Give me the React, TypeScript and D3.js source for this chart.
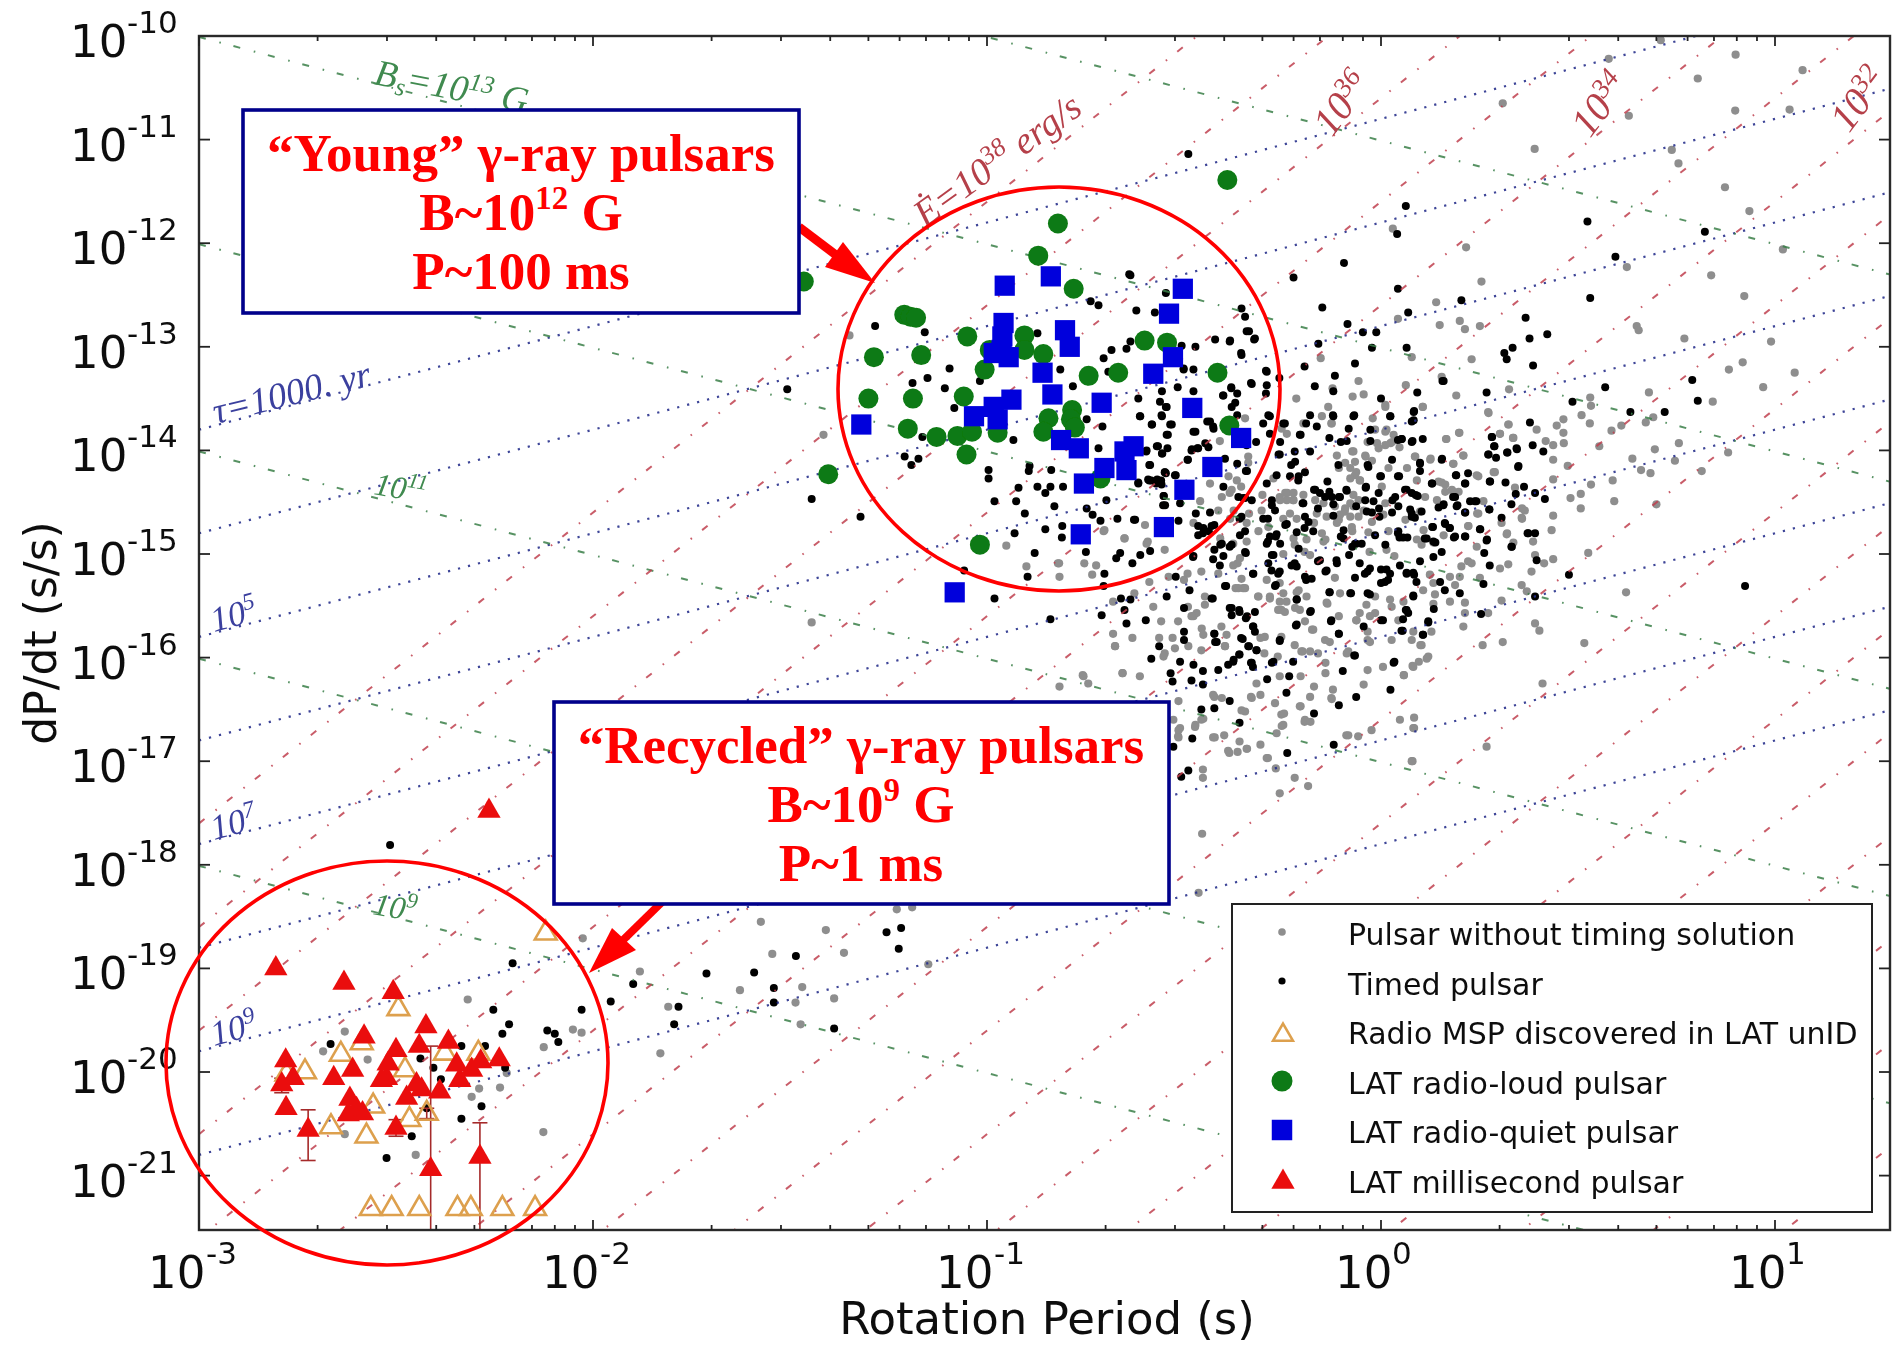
import React from 'react';
import * as d3 from 'd3';

// all points are [log10 period, log10 period derivative]
const greenPulsars = [
  [-0.39,-11.39],[-0.82,-11.81],[-0.87,-12.12],[-0.78,-12.44],[-1.465,-12.37],[-1.21,-12.69],[-1.194,-12.71],[-1.18,-12.72],
  [-1.05,-12.9],[-0.905,-12.89],[-0.905,-13.03],[-0.993,-13.03],[-0.857,-13.07],[-1.287,-13.1],[-1.167,-13.08],[-1.006,-13.22],
  [-0.742,-13.28],[-0.667,-13.25],[-0.6,-12.94],[-0.543,-12.96],[-0.415,-13.25],[-1.301,-13.5],[-1.188,-13.5],[-1.059,-13.48],
  [-1.201,-13.79],[-1.128,-13.87],[-1.075,-13.86],[-1.038,-13.82],[-0.973,-13.83],[-1.052,-14.04],[-1.403,-14.23],[-1.018,-14.91],
  [-0.844,-13.69],[-0.857,-13.82],[-0.784,-13.61],[-0.787,-13.7],[-0.777,-13.78],[-0.385,-13.76],[-0.712,-14.27],
];
const bluePulsars = [
  [-1.319,-13.75],[-1.082,-15.37],[-0.955,-12.41],[-0.838,-12.32],[-0.503,-12.44],[-0.538,-12.68],[-0.958,-12.77],[-0.961,-12.9],
  [-0.963,-13.03],[-0.983,-13.06],[-0.945,-13.1],[-0.802,-12.84],[-0.79,-13.0],[-0.528,-13.1],[-0.859,-13.25],[-0.578,-13.26],
  [-0.834,-13.46],[-0.709,-13.54],[-0.938,-13.51],[-0.983,-13.58],[-1.033,-13.67],[-0.973,-13.7],[-0.479,-13.59],[-0.812,-13.9],
  [-0.767,-13.98],[-0.355,-13.88],[-0.628,-13.96],[-0.651,-14.01],[-0.646,-14.19],[-0.702,-14.17],[-0.754,-14.32],[-0.428,-14.16],
  [-0.499,-14.38],[-0.551,-14.74],[-0.762,-14.81],
];
const redPulsars = [
  [-2.264,-17.48],[-2.805,-19.0],[-2.632,-19.14],[-2.507,-19.23],[-2.424,-19.56],[-2.581,-19.66],[-2.78,-19.89],[-2.367,-19.71],
  [-2.441,-19.75],[-2.5,-19.79],[-2.52,-19.92],[-2.238,-19.88],[-2.285,-19.9],[-2.346,-19.93],[-2.308,-19.98],[-2.61,-19.98],
  [-2.658,-20.06],[-2.761,-20.06],[-2.79,-20.12],[-2.524,-20.06],[-2.537,-20.08],[-2.338,-20.08],[-2.448,-20.12],[-2.435,-20.17],
  [-2.389,-20.19],[-2.473,-20.25],[-2.617,-20.26],[-2.621,-20.41],[-2.6,-20.36],[-2.585,-20.4],[-2.779,-20.35],[-2.5,-20.54],
  [-2.723,-20.56],[-2.287,-20.82],[-2.412,-20.94],
];
const orangeMsps = [
  [-2.494,-19.39],[-2.64,-19.83],[-2.731,-20.0],[-2.12,-18.66],[-2.778,-20.02],[-2.477,-19.98],[-2.558,-20.33],[-2.466,-20.46],
  [-2.665,-20.53],[-2.575,-20.62],[-2.376,-19.82],[-2.291,-19.82],[-2.587,-19.72],[-2.422,-20.4],
  [-2.564,-21.32],[-2.511,-21.32],[-2.441,-21.32],[-2.344,-21.32],[-2.31,-21.32],[-2.23,-21.32],[-2.147,-21.32],
];
// [log10 P, lower, upper]
const redErrorBars = [
  [-2.723,-20.854,-20.365],[-2.412,-21.7,-19.75],[-2.287,-21.7,-20.49],[-2.79,-20.2,-20.06],[-2.5,-20.62,-20.46],[-2.422,-20.45,-20.35],
];
const timedPulsars = [
  [-2.666,-19.73],[-2.204,-18.95],[-2.253,-19.4],[-2.213,-19.54],[-2.23,-19.63],[-2.334,-19.75],[-2.274,-19.75],[-2.438,-19.87],
  [-2.405,-19.96],[-2.386,-20.07],[-2.223,-19.96],[-2.283,-20.33],[-2.334,-20.45],[-2.46,-20.62],[-2.524,-20.83],[-2.422,-20.35],
  [-2.116,-19.6],[-2.097,-19.63],[-2.088,-19.71],[-2.029,-19.4],[-1.955,-19.32],[-1.898,-19.15],[-1.712,-19.05],[-1.591,-19.04],
  [-1.485,-18.88],[-1.255,-18.65],[-1.218,-18.61],[-1.224,-18.81],[-1.783,-19.37],[-1.794,-19.54],[-1.541,-19.19],[-1.541,-19.33],
  [-1.388,-19.58],[-2.515,-17.81],
  [-0.489,-11.14],[0.063,-11.64],[0.041,-11.91],[-0.094,-12.19],[-0.222,-12.33],[0.524,-11.79],[0.822,-11.89],[0.595,-12.13],
  [0.531,-12.53],[0.204,-12.55],[-0.149,-12.62],[0.069,-12.67],[0.367,-12.72],[0.422,-12.88],[0.377,-12.92],[-0.085,-12.78],
  [-0.046,-12.86],[-0.012,-12.86],[-0.159,-12.97],[-0.023,-13.01],[0.065,-13.01],[0.334,-13.01],[0.313,-13.06],[0.319,-13.12],
  [0.386,-13.18],[-0.066,-13.16],[-0.194,-13.19],[0.159,-13.33],[0.79,-13.32],[0.569,-13.39],[0.268,-13.44],[0.804,-13.52],
  [0.092,-13.44],[-0.117,-13.28],[-0.168,-13.38],[-0.121,-13.43],[0.0,-13.5],[0.486,-13.53],[0.72,-13.63],[0.633,-13.63],[0.043,-12.44],
  [-0.639,-12.3],[-0.546,-12.48],[-0.621,-12.65],[-0.574,-12.67],[-0.354,-12.63],[-0.345,-12.71],[-0.341,-12.85],[-0.322,-12.93],
  [-0.421,-12.93],[-0.384,-12.95],[-0.354,-13.08],[-0.501,-13.21],[-0.292,-13.23],[-0.328,-13.36],[-0.258,-13.3],[-0.38,-13.4],
  [-0.401,-13.47],[-0.292,-13.45],
  [0.156,-13.33],[0.084,-13.62],[0.078,-13.72],[0.378,-13.73],[0.282,-13.87],[0.287,-13.96],[0.052,-13.89],[0.08,-13.91],[0.106,-13.89],
  [0.385,-13.95],[0.344,-13.98],[0.32,-14.02],[0.272,-14.04],[0.292,-14.07],[0.412,-14.01],[0.155,-14.08],[0.099,-14.12],[0.099,-14.2],
  [0.348,-14.16],[0.19,-14.24],[0.221,-14.22],[0.213,-14.32],[0.276,-14.3],[0.316,-14.31],[0.13,-14.32],[0.363,-14.35],[0.065,-14.38],
  [0.088,-14.43],[0.183,-14.45],[0.342,-14.42],[0.391,-14.41],[0.416,-14.47],[0.238,-14.49],[0.331,-14.52],[0.158,-14.53],[0.194,-14.53],
  [0.275,-14.57],[0.213,-14.6],[0.078,-14.61],[0.103,-14.59],[0.306,-14.65],[0.086,-14.65],[0.162,-14.7],[0.175,-14.75],[0.13,-14.74],
  [0.251,-14.76],[0.374,-14.8],[0.391,-14.8],[0.213,-14.83],[0.185,-14.84],[0.056,-14.84],[0.111,-14.85],[0.133,-14.88],[0.268,-14.87],
  [0.331,-14.93],[0.154,-14.98],[0.133,-15.03],[0.262,-14.99],[0.099,-15.07],[0.395,-15.06],[0.276,-15.11],[0.477,-15.2],[0.065,-15.18],
  [0.084,-15.2],[0.15,-15.27],[0.26,-15.29],[0.162,-15.35],[0.2,-15.38],[0.391,-15.41],[0.082,-15.4],[0.065,-15.54],[0.134,-15.53],
  [0.254,-15.58],[0.056,-15.63],[0.12,-15.66],[0.055,-15.74],[0.106,-15.78],[0.924,-15.31],
  [-0.282,-13.67],[-0.248,-13.74],[-0.204,-13.85],[-0.18,-13.66],[-0.122,-13.66],[-0.068,-13.66],[0.024,-13.67],[-0.131,-13.88],
  [-0.102,-13.92],[0.043,-13.9],[-0.257,-14.04],[-0.219,-14.01],[-0.18,-14.01],[-0.228,-14.14],[-0.209,-14.25],[-0.034,-14.14],
  [0.0,-14.25],[0.043,-14.25],[-0.17,-14.38],[-0.131,-14.4],[-0.136,-14.3],[-0.107,-14.45],[-0.088,-14.38],[-0.039,-14.36],
  [-0.277,-14.48],[-0.199,-14.51],[-0.35,-14.46],[-0.16,-14.56],[-0.063,-14.54],[-0.005,-14.56],[0.029,-14.48],[-0.359,-14.66],
  [-0.287,-14.66],[-0.243,-14.72],[-0.194,-14.75],[-0.267,-14.83],[-0.287,-14.88],[-0.102,-14.83],[-0.063,-14.9],[-0.015,-14.82],
  [0.043,-14.8],[-0.345,-14.98],[-0.423,-14.96],[-0.384,-14.93],[-0.277,-15.01],[-0.209,-14.95],[-0.219,-15.09],[-0.16,-15.07],
  [-0.112,-15.09],[-0.257,-15.17],[-0.325,-15.19],[-0.073,-14.93],[-0.141,-15.17],[-0.034,-15.17],[0.014,-15.15],[0.01,-15.27],
  [-0.19,-15.25],[-0.267,-15.3],[-0.393,-15.31],[-0.486,-15.35],[-0.427,-15.43],[-0.544,-15.41],[-0.214,-15.44],[-0.18,-15.56],
  [-0.131,-15.37],[-0.078,-15.38],[-0.034,-15.38],[0.005,-15.64],[-0.126,-15.64],[-0.214,-15.68],[-0.044,-15.7],[-0.257,-15.83],
  [-0.107,-15.77],[-0.384,-15.52],[-0.359,-15.56],[-0.32,-15.56],[-0.34,-15.6],[-0.325,-15.7],[-0.5,-15.52],[-0.651,-15.54],
  [-0.636,-15.44],[-0.66,-15.43],[-0.709,-15.59],[-0.597,-15.64],[-0.646,-15.67],[-0.5,-15.75],[-0.423,-15.77],[-0.421,-15.85],
  [-0.5,-15.83],[-0.563,-15.89],[-0.355,-15.81],[-0.335,-15.89],[-0.316,-15.93],[-0.359,-15.97],[-0.374,-16.02],[-0.388,-16.07],
  [-0.583,-16.01],[-0.51,-16.04],[-0.476,-16.07],[-0.452,-16.13],[-0.413,-16.12],[-0.33,-16.05],[-0.325,-16.09],[-0.277,-16.05],
  [-0.223,-16.04],[-0.068,-15.98],[-0.097,-16.13],[-0.233,-16.18],[-0.289,-16.21],[0.032,-16.05],[-0.534,-16.15],[-0.529,-16.23],
  [-0.481,-16.22],[-0.452,-16.26],[-0.24,-16.34],[0.024,-16.31],[-0.063,-16.38],[-0.107,-16.46],[-0.456,-16.5],[-0.423,-16.49],
  [-0.384,-16.42],[-0.17,-16.54],[-0.359,-16.63],[-0.479,-16.78],[-0.12,-16.84],[-0.238,-16.92],[-0.527,-16.86],[-0.489,-17.09],[-0.507,-17.15],
  [-0.452,-14.8],[-0.423,-14.72],[-0.408,-14.91],[-0.437,-14.78],[-0.49,-14.09],[-0.466,-13.98],[-0.549,-14.21],[-0.558,-14.29],[-0.583,-14.29],
  [-1.284,-12.8],[-1.158,-12.86],[-1.507,-13.41],[-1.095,-13.21],[-1.151,-13.3],[-1.189,-13.35],[-1.107,-13.4],[-1.083,-13.59],[-1.018,-13.33],
  [-0.636,-12.31],[-0.737,-12.56],[-0.717,-12.6],[-0.872,-12.87],[-0.636,-12.95],[-0.684,-13.03],[-0.646,-13.02],[-0.704,-13.11],
  [-0.814,-13.22],[-0.692,-13.24],[-0.506,-12.99],[-0.383,-12.94],[-0.471,-13.0],[-0.355,-13.06],[-0.32,-12.92],[-0.335,-12.85],
  [-0.29,-13.24],[-0.501,-13.22],[-0.476,-13.22],[-0.782,-13.38],[-0.616,-13.5],[-0.556,-13.43],[-0.516,-13.39],[-0.476,-13.43],
  [-0.561,-13.53],[-0.546,-13.58],[-0.556,-13.67],[-0.4,-13.47],[-0.38,-13.39],[-0.365,-13.45],[-0.33,-13.35],[-0.29,-13.37],
  [-0.37,-13.54],[-0.611,-13.67],[-0.747,-13.7],[-0.581,-13.75],[-0.531,-13.75],[-0.441,-13.72],[-0.426,-13.77],[-0.471,-13.82],
  [-0.707,-13.77],[-0.541,-13.85],[-0.566,-13.96],[-0.556,-14.03],[-0.596,-14.01],[-0.481,-14.0],[-0.446,-13.93],[-0.491,-14.09],
  [-0.717,-13.98],[-0.933,-13.9],[-0.586,-14.14],[-0.546,-14.22],[-0.521,-14.24],[-0.591,-14.28],[-0.571,-14.32],[-0.616,-14.32],
  [-0.34,-14.2],[-1.164,-13.87],[-1.209,-14.06],[-1.174,-14.08],[-1.192,-14.14],[-0.996,-14.19],[-0.996,-14.27],[-0.892,-14.15],
  [-0.894,-14.2],[-0.837,-14.19],[-0.92,-14.36],[-0.872,-14.35],[-0.839,-14.35],[-0.807,-14.35],[-1.445,-14.47],[-1.321,-14.64],
  [-0.981,-14.49],[-0.926,-14.49],[-0.852,-14.41],[-0.829,-14.54],[-0.904,-14.61],[-0.747,-14.56],[-0.732,-14.62],[-0.712,-14.68],
  [-0.697,-14.48],[-0.669,-14.66],[-0.624,-14.67],[-0.551,-14.44],[-0.553,-14.53],[-0.93,-14.8],[-0.852,-14.76],[-0.809,-14.73],
  [-0.81,-14.84],[-0.879,-14.99],[-0.749,-14.98],[-0.672,-15.04],[-0.662,-14.99],[-0.631,-15.09],[-0.897,-15.22],[-0.702,-15.19],
  [-0.704,-15.31],[-0.611,-15.01],[-0.586,-14.97],[-0.981,-15.43],[-0.839,-15.63],[-1.058,-15.16],[-0.521,-15.22],[-0.476,-15.02],
  // dense core, upper left part
  [-0.612,-13.67],[-0.582,-13.75],[-0.535,-13.75],[-0.544,-13.85],[-0.476,-13.82],[-0.557,-13.66],[-0.544,-13.58],[-0.569,-13.96],
  [-0.542,-13.98],[-0.555,-14.03],[-0.595,-14.0],[-0.588,-14.14],[-0.548,-14.21],[-0.616,-14.31],[-0.588,-14.29],[-0.568,-14.28],
  [-0.557,-14.33],[-0.523,-14.24],[-0.552,-14.44],[-0.548,-14.53],[-0.51,-14.51],[-0.627,-14.67],[-0.514,-14.68],[-0.48,-13.99],
  [-0.464,-13.98],[-0.438,-13.97],[-0.434,-13.72],[-0.425,-13.79],[-0.365,-13.66],[-0.379,-13.58],[-0.317,-13.92],[-0.341,-13.95],
  [-0.396,-14.08],[-0.365,-14.13],[-0.343,-14.2],[-0.4,-14.35],[-0.362,-14.45],[-0.345,-14.46],[-0.328,-14.48],[-0.354,-14.64],
  [-0.434,-14.6],[-0.47,-14.61],[-0.464,-14.73],[-0.43,-14.73],[-0.451,-14.75],[-0.464,-14.82],[-0.404,-14.9],[-0.345,-14.78],
  [-0.358,-14.82],[-0.379,-14.91],[-0.286,-13.66],[-0.299,-13.74],[-0.282,-13.84],[-0.244,-13.74],[-0.206,-13.85],[-0.19,-13.74],
  [-0.163,-13.77],[-0.256,-13.92],[-0.26,-14.04],[-0.218,-14.11],[-0.231,-14.25],[-0.21,-14.29],[-0.193,-14.21],[-0.265,-14.24],
  [-0.29,-14.32],[-0.167,-14.38],[-0.155,-14.41],[-0.142,-14.45],[-0.197,-14.51],[-0.277,-14.53],[-0.269,-14.58],[-0.299,-14.66],
  [-0.193,-14.64],[-0.184,-14.69],[-0.239,-14.71],[-0.282,-14.83],[-0.265,-14.81],[-0.256,-14.9],[-0.214,-14.79],[-0.172,-14.78],[-0.29,-14.9],
  // dense core, upper right part
  [-0.121,-13.67],[-0.07,-13.67],[0.023,-13.67],[0.083,-13.63],[0.083,-13.71],[-0.082,-13.79],[-0.027,-13.8],[-0.027,-13.91],
  [-0.087,-13.91],[0.053,-13.89],[0.078,-13.92],[-0.108,-14.14],[-0.032,-14.16],[0.028,-14.09],[0.154,-14.09],[0.099,-14.13],
  [-0.002,-14.25],[0.046,-14.25],[0.191,-14.24],[0.129,-14.32],[0.214,-14.32],[0.277,-14.3],[-0.087,-14.39],[-0.038,-14.35],
  [-0.006,-14.41],[0.061,-14.38],[0.078,-14.41],[0.093,-14.44],[0.036,-14.45],[-0.125,-14.45],[-0.104,-14.45],[-0.04,-14.48],
  [-0.019,-14.49],[-0.121,-14.52],[0.188,-14.45],[0.159,-14.52],[0.146,-14.55],[0.192,-14.54],[0.226,-14.49],[0.242,-14.49],[0.275,-14.57],
  [0.214,-14.6],[0.044,-14.54],[-0.036,-14.59],[-0.023,-14.6],[0.028,-14.6],[0.074,-14.57],[0.078,-14.64],[-0.121,-14.63],[-0.004,-14.64],
  [0.132,-14.74],[0.163,-14.71],[0.174,-14.75],[-0.095,-14.77],[0.044,-14.78],[0.047,-14.84],[0.067,-14.84],[0.188,-14.83],[0.214,-14.83],
  [0.116,-14.85],[0.138,-14.89],[0.252,-14.76],[0.269,-14.86],[0.372,-14.8],[0.332,-14.93],[0.011,-14.91],[-0.049,-14.9],[-0.095,-14.85],
  [-0.066,-14.9],[0.281,-13.87],[0.288,-13.96],[0.273,-14.04],[0.321,-14.02],[0.345,-13.99],[0.349,-14.15],
  // dense core, lower part
  [-0.477,-15.03],[-0.426,-15.05],[-0.4,-15.02],[-0.409,-15.11],[-0.343,-14.99],[-0.273,-15.01],[-0.286,-15.09],[-0.324,-15.19],
  [-0.278,-15.16],[-0.261,-15.19],[-0.227,-15.11],[-0.214,-15.12],[-0.193,-15.22],[-0.176,-15.24],[-0.138,-15.16],[-0.155,-15.06],
  [-0.113,-15.06],[-0.081,-15.01],[-0.054,-15.09],[-0.028,-15.14],[-0.041,-15.19],[-0.066,-15.23],[0.0,-15.15],[0.023,-15.19],
  [0.048,-15.11],[0.0,-15.28],[0.018,-15.25],[0.065,-15.19],[0.082,-15.18],[0.09,-15.27],[0.082,-15.41],[-0.028,-15.39],[-0.076,-15.38],
  [-0.13,-15.37],[-0.214,-15.44],[-0.269,-15.31],[-0.396,-15.31],[-0.43,-15.43],[-0.379,-15.52],[-0.36,-15.54],[-0.379,-15.59],[-0.343,-15.62],
  [-0.178,-15.55],[-0.324,-15.7],[-0.32,-15.75],[-0.423,-15.77],[-0.417,-15.85],[-0.351,-15.82],[-0.337,-15.89],[-0.316,-15.93],[-0.36,-15.97],
  [-0.375,-16.04],[-0.257,-15.84],[-0.216,-15.69],[-0.127,-15.65],[0.0,-15.64],[-0.107,-15.77],[0.063,-15.54],[0.069,-15.57],[-0.066,-15.98],
  [0.034,-16.04],[0.052,-15.74],[0.107,-15.78],[0.12,-15.65],[-0.328,-16.05],[-0.273,-16.04],
];
const untimedPulsars = [
  [-1.574,-18.55],[-1.409,-18.63],[-1.545,-18.86],[-1.363,-18.85],[-1.881,-19.03],[-1.627,-19.21],[-1.469,-19.18],[-1.388,-19.29],
  [-1.486,-19.33],[-1.809,-19.37],[-1.473,-19.54],[-1.829,-19.82],[-2.026,-18.71],[-2.051,-19.59],[-2.029,-19.62],[-1.229,-18.43],
  [-1.19,-18.41],[-1.149,-18.96],[-0.463,-18.27],[-2.318,-19.3],[-2.63,-19.61],[-2.685,-19.8],[-2.572,-19.88],[-2.125,-19.76],
  [-2.289,-20.16],[-2.308,-20.24],[-2.236,-20.15],[-2.219,-20.01],[-2.63,-20.6],[-2.45,-20.8],[-2.126,-20.58],
  [0.71,-10.04],[0.9,-10.18],[0.578,-10.22],[0.804,-10.41],[0.309,-10.65],[0.629,-10.77],[0.899,-10.72],[0.39,-11.09],[0.738,-11.1],
  [0.755,-11.23],[0.873,-11.46],[0.935,-11.69],[0.03,-11.86],[0.216,-12.04],[1.02,-12.06],[0.624,-12.23],[0.838,-12.31],[0.255,-12.37],
  [0.14,-12.57],[0.922,-12.51],[0.2,-12.75],[0.149,-12.79],[0.213,-12.83],[0.649,-12.8],[0.77,-12.92],[0.99,-12.95],[0.043,-12.73],
  [0.918,-13.15],[0.883,-13.22],[1.05,-13.25],[0.23,-13.12],[0.97,-13.39],[0.68,-13.44],[0.842,-13.53],[0.191,-13.47],[-0.153,-13.11],
  [-0.057,-13.33],[0.063,-13.37],[-0.215,-13.5],[-0.072,-13.48],[-0.044,-13.46],[0.531,-13.49],[0.325,-13.41],[-0.123,-13.4],[0.011,-13.56],
  [1.07,-10.33],[1.037,-10.71],[0.251,-12.8],[0.654,-12.84],[0.533,-13.57],[0.078,-13.1],[0.154,-13.29],[0.272,-13.63],[0.106,-13.58],
  [0.323,-13.75],[0.509,-13.66],[0.53,-13.74],[0.463,-13.7],[0.446,-13.76],[0.463,-13.83],[0.199,-13.83],[0.395,-13.8],[0.336,-13.88],
  [0.302,-13.84],[0.418,-13.91],[0.464,-13.93],[0.437,-13.95],[0.166,-13.89],[0.691,-13.68],[0.672,-13.73],[0.61,-13.76],[0.585,-13.81],
  [0.554,-13.96],[0.756,-13.93],[0.695,-13.99],[0.881,-14.02],[0.638,-14.08],[0.746,-14.1],[0.437,-14.09],[0.474,-14.15],[0.66,-14.19],
  [0.684,-14.22],[0.814,-14.2],[0.209,-14.05],[0.183,-14.13],[0.126,-14.08],[0.086,-14.06],[0.289,-14.21],[0.247,-14.25],[0.588,-14.29],
  [0.533,-14.33],[0.437,-14.28],[0.154,-14.31],[0.183,-14.4],[0.34,-14.36],[0.507,-14.42],[0.481,-14.46],[0.592,-14.49],[0.699,-14.52],
  [0.507,-14.56],[0.365,-14.58],[0.244,-14.61],[0.437,-14.63],[0.357,-14.65],[0.433,-14.77],[0.306,-14.7],[0.221,-14.73],[0.319,-14.81],
  [0.386,-14.88],[0.336,-14.89],[0.103,-14.91],[0.133,-14.89],[0.437,-15.05],[0.391,-15.01],[0.414,-15.09],[0.526,-14.99],[0.382,-15.17],
  [0.302,-15.14],[0.323,-15.1],[0.221,-15.07],[0.204,-15.12],[0.23,-15.09],[0.251,-15.23],[0.2,-15.22],[0.124,-15.2],[0.175,-15.22],
  [0.357,-15.3],[0.37,-15.36],[0.622,-15.37],[0.188,-15.3],[0.137,-15.39],[0.133,-15.48],[0.175,-15.46],[0.213,-15.47],[0.306,-15.45],
  [0.213,-15.57],[0.272,-15.57],[0.391,-15.67],[0.402,-15.74],[0.209,-15.7],[0.128,-15.75],[0.082,-15.75],[0.309,-15.85],[0.258,-15.88],
  [0.516,-15.86],[0.1,-15.88],[0.12,-15.99],[0.096,-16.04],[0.08,-16.08],[0.058,-16.17],[0.41,-16.25],[0.084,-16.58],[0.084,-16.68],
  [0.268,-16.86],[0.08,-17.0],
  [-0.126,-13.74],[-0.073,-14.01],[-0.039,-14.06],[-0.063,-14.21],[-0.054,-14.29],[-0.107,-14.17],[0.014,-13.8],[-0.015,-13.8],
  [-0.034,-13.92],[-0.01,-13.93],[0.024,-13.93],[-0.238,-14.41],[-0.223,-14.48],[-0.257,-14.45],[-0.301,-14.43],[-0.355,-14.35],
  [-0.384,-14.41],[-0.413,-14.58],[-0.374,-14.58],[-0.335,-14.61],[-0.117,-14.54],[-0.092,-14.59],[-0.107,-14.67],[-0.044,-14.58],
  [-0.17,-14.7],[-0.141,-14.86],[-0.219,-14.91],[-0.194,-14.98],[-0.18,-15.01],[-0.248,-15.0],[-0.364,-15.09],[-0.029,-14.98],
  [0.014,-14.96],[-0.073,-14.78],[0.034,-15.02],[-0.491,-15.19],[-0.5,-15.25],[-0.456,-15.17],[-0.539,-15.22],[-0.413,-15.19],
  [-0.369,-15.33],[-0.35,-15.33],[-0.311,-15.41],[-0.253,-15.54],[-0.209,-15.35],[-0.282,-15.41],[-0.136,-15.48],[-0.107,-15.6],
  [-0.063,-15.64],[-0.015,-15.57],[-0.034,-15.75],[-0.13,-15.85],[-0.083,-15.94],[-0.16,-15.96],[-0.199,-15.94],[-0.219,-15.88],
  [-0.141,-16.05],[-0.034,-15.83],[-0.175,-15.73],[-0.253,-15.8],[-0.476,-15.6],[-0.49,-15.51],[-0.515,-15.65],[-0.558,-15.65],
  [-0.675,-15.89],[-0.631,-15.81],[-0.68,-15.77],[-0.563,-15.81],[-0.529,-15.81],[-0.456,-15.93],[-0.306,-15.81],[-0.549,-15.96],
  [-0.656,-16.15],[-0.612,-16.18],[-0.743,-16.25],[-0.757,-16.17],[-0.816,-16.28],[-0.296,-15.96],[-0.262,-15.99],[-0.316,-16.25],
  [-0.33,-16.38],[-0.306,-16.36],[-0.423,-16.38],[-0.257,-16.18],[-0.204,-16.18],[-0.17,-16.28],[-0.141,-16.15],[-0.18,-16.38],
  [-0.122,-16.31],[-0.044,-16.26],[0.005,-16.09],[-0.034,-16.12],[0.058,-16.17],[-0.126,-16.39],[-0.204,-16.47],[-0.253,-16.55],
  [-0.194,-16.62],[-0.248,-16.65],[-0.345,-16.52],[-0.456,-16.6],[-0.471,-16.65],[-0.51,-16.68],[-0.515,-16.76],[-0.422,-16.77],
  [-0.398,-16.75],[-0.359,-16.81],[-0.388,-16.9],[-0.364,-16.91],[-0.34,-16.88],[-0.306,-16.84],[-0.287,-16.97],[-0.267,-17.07],
  [-0.219,-17.16],[-0.185,-17.24],[-0.257,-17.31],[-0.452,-17.08],[-0.452,-17.16],[-0.058,-16.76],[-0.088,-16.75],[-0.024,-16.7],
  [0.048,-16.6],[0.082,-16.68],[0.078,-17.0],
  [-0.82,-15.09],[-0.753,-15.09],[-0.723,-15.11],[-0.733,-15.2],[-0.816,-15.22],[-0.651,-14.85],[-0.704,-14.78],[-0.408,-14.85],
  [-0.592,-14.88],[-0.549,-14.96],[-0.588,-15.27],[-0.626,-15.38],[-0.68,-15.46],[-0.578,-15.51],
  [-1.415,-13.85],[-1.349,-12.89],[-0.951,-14.92],[-0.9,-15.12],[-0.817,-15.09],[-1.445,-15.66],[-0.651,-14.85],[-0.702,-14.77],
  [-0.656,-16.15],[-0.755,-16.18],[-0.675,-15.89],[-0.552,-15.99],[-0.523,-15.91],[-0.489,-15.89],[-0.396,-15.89],[-0.426,-16.36],
  [-0.404,-16.39],[-0.514,-16.42],[-0.527,-16.6],[-0.514,-16.7],[-0.514,-16.77],[-0.472,-16.67],[-0.451,-16.59],[-0.426,-16.77],
  [-0.354,-16.51],[-0.385,-16.92],[-0.341,-16.88],[-0.29,-16.97],[-0.454,-17.7],[-0.328,-16.39],[-0.269,-16.44],[-0.246,-16.54],
  [-0.206,-16.47],[-0.252,-16.66],[-0.265,-16.73],[-0.193,-16.6],[-0.179,-16.62],[-0.125,-16.4],[-0.083,-16.75],
  [-0.345,-13.69],[-0.409,-13.91],[-0.337,-14.06],[-0.337,-14.12],[-0.387,-14.25],[-0.366,-14.29],[-0.434,-14.32],[-0.459,-14.49],
  [-0.404,-14.45],[-0.379,-14.38],[-0.383,-14.66],[-0.341,-14.7],[-0.303,-14.58],[-0.239,-13.84],[-0.252,-13.79],[-0.197,-13.74],
  [-0.243,-14.41],[-0.222,-14.41],[-0.222,-14.48],[-0.239,-14.48],[-0.256,-14.48],[-0.197,-14.43],[-0.167,-14.48],[-0.146,-14.51],
  [-0.163,-14.61],[-0.138,-14.64],[-0.231,-14.61],[-0.214,-14.66],[-0.248,-14.66],[-0.222,-14.85],[-0.189,-14.86],[-0.15,-14.8],
  [-0.146,-14.88],[-0.341,-14.88],[-0.311,-14.78],[-0.286,-14.74],[-0.375,-14.9],[-0.595,-14.9],[-0.599,-14.72],[-0.476,-14.7],
  [-0.273,-14.27],[-0.15,-13.67],[-0.134,-13.58],
  [-0.125,-13.74],[-0.021,-13.69],[0.011,-13.58],[0.106,-13.58],[0.273,-13.64],[0.324,-13.75],[0.198,-13.83],[0.165,-13.89],[0.302,-13.84],
  [0.335,-13.88],[-0.07,-14.01],[0.011,-13.82],[0.032,-13.85],[0.028,-13.92],[0.011,-13.95],[-0.006,-13.98],[0.047,-13.97],[0.087,-14.06],
  [0.125,-14.09],[0.209,-14.05],[0.184,-14.13],[-0.112,-14.05],[-0.091,-14.12],[-0.066,-14.11],[-0.078,-14.17],[-0.04,-14.05],[-0.023,-14.1],
  [0.019,-14.17],[0.066,-14.17],[-0.066,-14.24],[-0.053,-14.29],[-0.078,-14.27],[0.243,-14.24],[0.286,-14.21],[0.091,-14.29],[0.146,-14.3],
  [0.163,-14.33],[0.18,-14.38],[0.197,-14.4],[0.163,-14.4],[0.112,-14.45],[0.142,-14.48],[0.002,-14.35],[-0.07,-14.43],[-0.057,-14.48],
  [-0.078,-14.51],[-0.091,-14.56],[-0.07,-14.54],[-0.104,-14.62],[-0.078,-14.64],[-0.057,-14.64],[0.011,-14.51],[0.006,-14.62],[0.247,-14.61],
  [0.26,-14.49],[0.358,-14.56],[0.358,-14.66],[0.099,-14.59],[0.222,-14.73],[0.062,-14.67],[0.32,-14.8],[0.108,-14.77],[0.159,-14.82],
  [-0.023,-14.69],[-0.032,-14.79],[0.019,-14.78],[0.091,-14.86],[0.243,-14.93],[-0.112,-14.7],[-0.074,-14.74],
  [-0.354,-15.24],[-0.362,-15.33],[-0.345,-15.33],[-0.312,-15.41],[-0.29,-15.25],[-0.248,-15.38],[-0.214,-15.37],[-0.189,-15.41],[-0.282,-15.43],
  [-0.257,-15.46],[-0.24,-15.46],[-0.261,-15.54],[-0.244,-15.56],[-0.218,-15.52],[-0.206,-15.54],[-0.138,-15.47],[-0.104,-15.38],[-0.037,-15.49],
  [0.023,-15.44],[0.057,-15.46],[-0.015,-15.41],[-0.054,-15.57],[-0.028,-15.6],[-0.062,-15.64],[0.027,-15.51],[0.044,-15.64],[-0.193,-15.65],
  [-0.172,-15.73],[-0.295,-15.8],[-0.468,-15.57],[-0.447,-15.41],[-0.447,-15.49],[-0.481,-15.6],[-0.455,-15.72],[-0.451,-15.78],[-0.405,-15.7],
  [-0.392,-15.78],[-0.396,-15.89],[-0.142,-15.83],[-0.087,-15.96],[-0.202,-15.94],[-0.18,-15.94],[-0.028,-15.85],[0.027,-15.83],[0.078,-15.83],
  [0.103,-15.88],[0.082,-16.09],[0.116,-16.01],[-0.358,-15.04],[-0.117,-15.23],[0.133,-15.28],[0.107,-15.35],[-0.257,-15.28],[-0.375,-15.11],
];

// the straight iso-lines: log10 Pdot at P = 1 ms, and the slope in log-log
const edotIntercepts = [-17.6,-18.6,-19.6,-20.6,-21.6,-22.6,-23.6,-24.6,-25.6,-26.6,-27.6,-28.6,-29.6,-30.6,-31.6,-32.6,-33.6];
const fieldIntercepts = [-8.01,-10.01,-12.01,-14.01,-16.01,-18.01];
const ageIntercepts = [-13.8,-14.8,-15.8,-16.8,-17.8,-18.8,-19.8,-20.8];

const xMajorExps = [-3, -2, -1, 0, 1];
const yMajorExps = [-11, -12, -13, -14, -15, -16, -17, -18, -19, -20, -21];
const yLabelExps = [-10, ...yMajorExps];
const minorFactors = [2, 3, 4, 5, 6, 7, 8, 9];

const legendItems = [
  'Pulsar without timing solution',
  'Timed pulsar',
  'Radio MSP discovered in LAT unID',
  'LAT radio-loud pulsar',
  'LAT radio-quiet pulsar',
  'LAT millisecond pulsar',
];

const GRAY = '#8e8e8e';
const GREEN = '#0b7a12';
const BLUE = '#0404dc';
const RED = '#ea1010';
const ORANGE = '#dda04e';
const NAVY = '#00008b';
const SANS = '"DejaVu Sans", sans-serif';
const SERIF = '"Liberation Serif", serif';

const plot = { left: 199, right: 1890, top: 36, bottom: 1230 };

const xScale = d3.scaleLog().domain([1e-3, 10 ** 1.295]).range([plot.left, 199 + 4.295 * 394]);
const yScale = d3.scaleLog().domain([1e-10, 10 ** -21.525]).range([plot.top, plot.bottom]);

const px = (logP: number) => xScale(10 ** logP);
const py = (logPdot: number) => yScale(10 ** logPdot);

const isoPath = d3.line<number[]>().x(d => px(d[0])).y(d => py(d[1]));
const iso = (intercept: number, slope: number) =>
  isoPath([
    [-3, intercept],
    [1.3, intercept + slope * 4.3],
  ]) as string;

const triangle = d3.symbol(d3.symbolTriangle, 205)() as string;
const square = d3.symbol(d3.symbolSquare, 410)() as string;
const smallTriangle = d3.symbol(d3.symbolTriangle, 235)() as string;

const moved = (x: number, y: number) => `translate(${x},${y})`;

const IsoLabel = ({ x, y, rot, color, size = 34, parts }: any) => (
  <text
    transform={`translate(${x},${y}) rotate(${rot})`}
    fill={color}
    fontFamily={SERIF}
    fontStyle="italic"
    fontSize={size}
  >
    {parts.map((p: any, i: number) => (
      <tspan key={i} dy={p.dy || 0} fontSize={p.small ? size * 0.68 : size}>
        {p.t}
      </tspan>
    ))}
  </text>
);

const tenTo = (base: string, sup: string) => [
  { t: base },
  { t: sup, dy: -13, small: true },
];

export default function App() {
  return (
    <svg
      width={1892}
      height={1345}
      style={{ position: 'absolute', left: 0, top: 0, background: '#fff', display: 'block' }}
    >
      <defs>
        <clipPath id="plotArea">
          <rect x={plot.left} y={plot.top} width={plot.right - plot.left} height={plot.bottom - plot.top} />
        </clipPath>
        <filter id="soft" x="-5%" y="-5%" width="110%" height="110%">
          <feGaussianBlur stdDeviation="0.7" />
        </filter>
      </defs>

      <g filter="url(#soft)">
        <g clipPath="url(#plotArea)">
          {untimedPulsars.map((d, i) => (
            <circle key={i} cx={px(d[0])} cy={py(d[1])} r={4.1} fill={GRAY} />
          ))}
          {timedPulsars.map((d, i) => (
            <circle key={i} cx={px(d[0])} cy={py(d[1])} r={4} fill="#000" />
          ))}
          {ageIntercepts.map(v => (
            <path key={v} d={iso(v, 1)} fill="none" stroke="#27308c" strokeOpacity={0.9} strokeWidth={2.2} strokeDasharray="2.2 8.1" />
          ))}
          {fieldIntercepts.map(v => (
            <path key={v} d={iso(v, -1)} fill="none" stroke="#3a7f48" strokeOpacity={0.85} strokeWidth={2} strokeDasharray="7 14 1.6 13" />
          ))}
          {edotIntercepts.map(v => (
            <path key={v} d={iso(v, 3)} fill="none" stroke="#c0414f" strokeOpacity={0.85} strokeWidth={2} strokeDasharray="7 14 1.6 13" />
          ))}
          {redErrorBars.map((d, i) => (
            <g key={i} stroke="#a52a2a" strokeWidth={1.6}>
              <line x1={px(d[0])} x2={px(d[0])} y1={py(d[1])} y2={py(d[2])} />
              <line x1={px(d[0]) - 7.5} x2={px(d[0]) + 7.5} y1={py(d[1])} y2={py(d[1])} />
              <line x1={px(d[0]) - 7.5} x2={px(d[0]) + 7.5} y1={py(d[2])} y2={py(d[2])} />
            </g>
          ))}
          {orangeMsps.map((d, i) => (
            <path key={i} d={triangle} transform={moved(px(d[0]), py(d[1]))} fill="none" stroke={ORANGE} strokeWidth={2.6} />
          ))}
          {greenPulsars.map((d, i) => (
            <circle key={i} cx={px(d[0])} cy={py(d[1])} r={10} fill={GREEN} />
          ))}
          {bluePulsars.map((d, i) => (
            <path key={i} d={square} transform={moved(px(d[0]), py(d[1]))} fill={BLUE} />
          ))}
          {redPulsars.map((d, i) => (
            <path key={i} d={smallTriangle} transform={moved(px(d[0]), py(d[1]))} fill={RED} />
          ))}
        </g>

        <IsoLabel x={373} y={84} rot={11} size={37} color="#3f8a4f" parts={[
          { t: 'B' }, { t: 's', dy: 6, small: true }, { t: '=10', dy: -6 }, { t: '13', dy: -13, small: true }, { t: ' G', dy: 13 },
        ]} />
        <IsoLabel x={373} y={494} rot={10} color="#3f8a4f" size={32} parts={tenTo('10', '11')} />
        <IsoLabel x={372} y={914} rot={10} color="#3f8a4f" size={32} parts={tenTo('10', '9')} />
        <IsoLabel x={216} y={424} rot={-14} size={37} color="#3a3f9e" parts={[{ t: 'τ=1000. yr' }]} />
        <IsoLabel x={214} y={632} rot={-15} color="#3a3f9e" size={35} parts={tenTo('10', '5')} />
        <IsoLabel x={214} y={840} rot={-15} color="#3a3f9e" size={35} parts={tenTo('10', '7')} />
        <IsoLabel x={214} y={1046} rot={-15} color="#3a3f9e" size={35} parts={tenTo('10', '9')} />
        <IsoLabel x={925} y={228} rot={-36} size={38} color="#b5404a" parts={[
          { t: 'Ė=10' }, { t: '38', dy: -14, small: true }, { t: ' erg/s', dy: 14 },
        ]} />
        <IsoLabel x={1332} y={138} rot={-53} color="#b5404a" size={40} parts={tenTo('10', '36')} />
        <IsoLabel x={1590} y={139} rot={-53} color="#b5404a" size={40} parts={tenTo('10', '34')} />
        <IsoLabel x={1849} y={134} rot={-53} color="#b5404a" size={40} parts={tenTo('10', '32')} />

        {/* frame and ticks */}
        <rect
          x={plot.left}
          y={plot.top}
          width={plot.right - plot.left}
          height={plot.bottom - plot.top}
          fill="none"
          stroke="#2a2a2a"
          strokeWidth={2.4}
        />
        {xMajorExps.map(e => (
          <g key={e} stroke="#222" strokeWidth={1.8}>
            <line x1={px(e)} x2={px(e)} y1={plot.top} y2={plot.top + 10} />
            <line x1={px(e)} x2={px(e)} y1={plot.bottom} y2={plot.bottom - 10} />
            {minorFactors.map(f => (
              <g key={f}>
                <line x1={px(e + Math.log10(f))} x2={px(e + Math.log10(f))} y1={plot.top} y2={plot.top + 5} />
                <line x1={px(e + Math.log10(f))} x2={px(e + Math.log10(f))} y1={plot.bottom} y2={plot.bottom - 5} />
              </g>
            ))}
          </g>
        ))}
        {yMajorExps.map(e => (
          <g key={e} stroke="#222" strokeWidth={1.8}>
            <line x1={plot.left} x2={plot.left + 11} y1={py(e)} y2={py(e)} />
            <line x1={plot.right} x2={plot.right - 11} y1={py(e)} y2={py(e)} />
          </g>
        ))}

        {/* tick labels */}
        <g fontFamily={SANS} fill="#111">
          {yLabelExps.map(e => (
            <g key={e}>
              <text x={70} y={py(e) + 21} fontSize={45}>10</text>
              <text x={127} y={py(e) - 3} fontSize={31}>{e}</text>
            </g>
          ))}
          {xMajorExps.map(e => (
            <g key={e}>
              <text x={px(e) - (e < 0 ? 51 : 46)} y={1288} fontSize={45}>10</text>
              <text x={px(e) + (e < 0 ? 7 : 11)} y={1264} fontSize={31}>{e}</text>
            </g>
          ))}
          <text x={1047} y={1334} fontSize={45} textAnchor="middle">Rotation Period (s)</text>
          <text transform="translate(56,633) rotate(-90)" fontSize={44} textAnchor="middle">dP/dt (s/s)</text>
        </g>

        {/* legend */}
        <rect x={1232} y={904} width={640} height={308} fill="#fff" stroke="#222" strokeWidth={2} />
        <circle cx={1282} cy={932} r={3.8} fill={GRAY} />
        <circle cx={1282} cy={981} r={3.6} fill="#000" />
        <path d={d3.symbol(d3.symbolTriangle, 170)() as string} transform={moved(1283, 1035)} fill="none" stroke={ORANGE} strokeWidth={2.6} />
        <circle cx={1282} cy={1081} r={10.5} fill={GREEN} />
        <path d={d3.symbol(d3.symbolSquare, 420)() as string} transform={moved(1282, 1130)} fill={BLUE} />
        <path d={d3.symbol(d3.symbolTriangle, 235)() as string} transform={moved(1283, 1182)} fill={RED} />
        <g fontFamily={SANS} fontSize={30} fill="#111">
          {legendItems.map((t, i) => (
            <text key={t} x={1348} y={945 + i * 49.6}>{t}</text>
          ))}
        </g>
      </g>

      {/* annotations pasted over the plot */}
      <ellipse cx={1059} cy={389} rx={221} ry={202} fill="none" stroke="#ff0000" strokeWidth={3.6} />
      <ellipse cx={387} cy={1063} rx={221} ry={202} fill="none" stroke="#ff0000" strokeWidth={3.6} />

      <line x1={799} y1={227} x2={840} y2={258} stroke="#ff0000" strokeWidth={9} />
      <polygon points="843,242 825,267 875,283" fill="#ff0000" />
      <line x1={662} y1={902} x2={618} y2={945} stroke="#ff0000" strokeWidth={8} />
      <polygon points="612,928 636,950 589,973" fill="#ff0000" />

      <rect x={243} y={110} width={556} height={203} fill="#fff" stroke={NAVY} strokeWidth={3.6} />
      <g fontFamily={SERIF} fontWeight="bold" fontSize={53} fill="#ff0000" textAnchor="middle">
        <text x={521} y={171}>“Young” γ-ray pulsars</text>
        <text x={521} y={230}>B~10<tspan fontSize={33} dy={-21}>12</tspan><tspan dy={21}> G</tspan></text>
        <text x={521} y={289}>P~100 ms</text>
      </g>

      <rect x={554} y={702} width={615} height={202} fill="#fff" stroke={NAVY} strokeWidth={3.6} />
      <g fontFamily={SERIF} fontWeight="bold" fontSize={53} fill="#ff0000" textAnchor="middle">
        <text x={861} y={763}>“Recycled” γ-ray pulsars</text>
        <text x={861} y={822}>B~10<tspan fontSize={33} dy={-21}>9</tspan><tspan dy={21}> G</tspan></text>
        <text x={861} y={881}>P~1 ms</text>
      </g>
    </svg>
  );
}
